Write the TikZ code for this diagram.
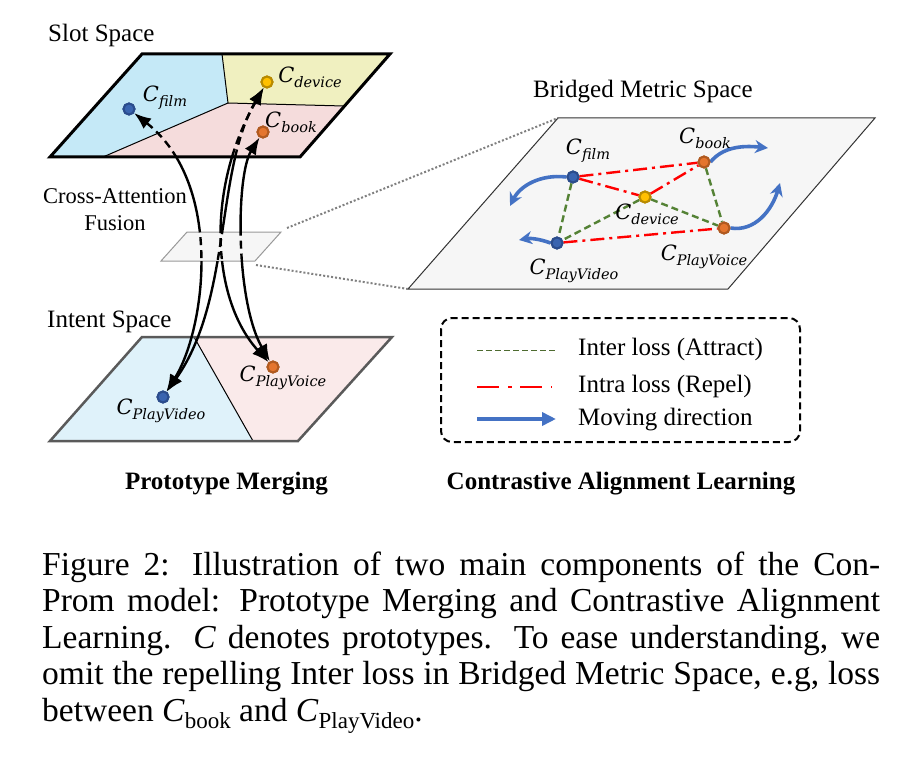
\documentclass[tikz,border=0pt]{standalone}
\usepackage{fontspec}
\setmainfont{Liberation Serif}
\newfontfamily\pfont{DejaVu Serif}
\usetikzlibrary{arrows.meta,calc}
\definecolor{slotblue}{HTML}{C5E9F7}
\definecolor{slotyellow}{HTML}{F0F0C0}
\definecolor{slotpink}{HTML}{F5DCDC}
\definecolor{intblue}{HTML}{DFF2FA}
\definecolor{intpink}{HTML}{FAEAEA}
\definecolor{dotblue}{HTML}{3A64B0}
\definecolor{dotblueE}{HTML}{2B4C8C}
\definecolor{dotyel}{HTML}{FFC000}
\definecolor{dotyelE}{HTML}{B88A00}
\definecolor{dotor}{HTML}{E4752E}
\definecolor{dotorE}{HTML}{B05A20}
\definecolor{movblue}{HTML}{4472C4}
\definecolor{intergreen}{HTML}{548235}
\definecolor{legendgreen}{HTML}{4E6B30}
\definecolor{planegray}{HTML}{F6F6F6}
\definecolor{intborder}{HTML}{5A5A5A}
\newcommand\Cs[1]{{\pfont\itshape\fontsize{21}{21}\selectfont C\raisebox{-5pt}{\fontsize{14.5}{14.5}\selectfont #1}}}
\newcommand\capsub[1]{\raisebox{-0.22em}{\fontsize{23}{23}\selectfont #1}}
\newcommand\capfont{\fontsize{33.5}{36}\selectfont}
\tikzset{
  lbl/.style={inner sep=0pt, font=\fontsize{25}{30}\selectfont},
  plbl/.style={inner sep=0pt},
  pdot/.style={circle, inner sep=0pt, minimum size=11pt, line width=2pt},
  bdot/.style={pdot, fill=dotblue, draw=dotblueE},
  ydot/.style={pdot, fill=dotyel, draw=dotyelE},
  odot/.style={pdot, fill=dotor, draw=dotorE},
  curve/.style={line width=2.4pt, {Latex[length=17pt,width=13pt]}-{Latex[length=17pt,width=13pt]}},
  dcurve/.style={curve, dash pattern=on 8pt off 5pt},
  mv/.style={movblue, line width=3.6pt, -{Stealth[length=13pt,width=13pt]}},
  intra/.style={red, line width=2.4pt, dash pattern=on 14pt off 5pt on 3pt off 5pt},
  inter/.style={intergreen, line width=2.4pt, dash pattern=on 7pt off 4pt},
  connect/.style={gray, line width=2pt, dash pattern=on 2pt off 2pt},
  capline/.style={anchor=base west, inner sep=0pt, font=\capfont},
}
\begin{document}
\begin{tikzpicture}[x=1pt,y=-1pt]
\useasboundingbox (0,0) rectangle (905,765);
% ---------- coordinates
\coordinate (S1) at (142,54); \coordinate (S2) at (390,54);
\coordinate (S3) at (300,157); \coordinate (S4) at (50,157);
\coordinate (P1) at (222,54); \coordinate (P2) at (228,103);
\coordinate (P3) at (103,157); \coordinate (P4) at ($(S2)!0.505!(S3)$);
\coordinate (I1) at (142,337); \coordinate (I2) at (392,337);
\coordinate (I3) at (298,441); \coordinate (I4) at (50,441);
\coordinate (Q1) at (194,337); \coordinate (Q2) at (253,441);
\coordinate (X1) at (187,232); \coordinate (X2) at (281,232);
\coordinate (X3) at (255,261); \coordinate (X4) at (161,261);
\coordinate (B1) at (558,118); \coordinate (B2) at (875,118);
\coordinate (B3) at (728,289); \coordinate (B4) at (408,289);
% ---------- slot space
\fill[slotblue] (S1) -- (P1) -- (P2) -- (P3) -- (S4) -- cycle;
\fill[slotyellow] (P1) -- (S2) -- (P4) -- (P2) -- cycle;
\fill[slotpink] (P2) -- (P4) -- (S3) -- (P3) -- cycle;
\draw[line width=1pt] (P1) -- (P2) -- (P3);
\draw[line width=1pt] (P2) -- (P4);
\draw[line width=3pt] (S1) -- (S2) -- (S3) -- (S4) -- cycle;
% ---------- intent space
\fill[intblue] (I1) -- (Q1) -- (Q2) -- (I4) -- cycle;
\fill[intpink] (Q1) -- (I2) -- (I3) -- (Q2) -- cycle;
\draw[line width=1pt] (Q1) -- (Q2);
\draw[intborder, line width=2.5pt] (I1) -- (I2) -- (I3) -- (I4) -- cycle;
% ---------- cross attention plane
\filldraw[fill=planegray, draw=gray!80, line width=1pt] (X1) -- (X2) -- (X3) -- (X4) -- cycle;
% ---------- bridged plane
\filldraw[fill=planegray, draw=black!80, line width=1pt] (B1) -- (B2) -- (B3) -- (B4) -- cycle;
\coordinate (Z1) at (287,228); \coordinate (Z2) at (256,265);
\draw[connect] (Z1) -- (B1);
\draw[connect] (Z2) -- (B4);
% ---------- dots
\node[bdot] (sf) at (129,109) {};
\node[ydot] (sd) at (267,82) {};
\node[odot] (sb) at (263,132) {};
\node[bdot] (ipv) at (163,397) {};
\node[odot] (ipo) at (273,367) {};
\node[bdot] (bf) at (573,177) {};
\node[odot] (bb) at (704,162) {};
\node[ydot] (bd) at (645,197) {};
\node[odot] (bpo) at (724,228) {};
\node[bdot] (bpv) at (557,243) {};
% ---------- merging curves
\def\cA{(sf) .. controls (225,185) and (205,330) .. (ipv)}
\def\cB{(sd) .. controls (215,170) and (232,300) .. (ipv)}
\def\cC{(sd) .. controls (205,190) and (212,300) .. (ipo)}
\def\cD{(sb) .. controls (236,175) and (235,300) .. (ipo)}
\begin{scope}[even odd rule]
  \clip (0,0) rectangle (905,765) (S1) -- (S2) -- (S3) -- (S4) -- cycle (X1) -- (X2) -- (X3) -- (X4) -- cycle;
  \draw[curve] \cA; \draw[curve] \cB; \draw[curve] \cC;
\end{scope}
\begin{scope}
  \clip (S1) -- (S2) -- (S3) -- (S4) -- cycle;
  \draw[dcurve] \cA; \draw[dcurve] \cB; \draw[dcurve] \cC;
\end{scope}
\begin{scope}
  \clip (X1) -- (X2) -- (X3) -- (X4) -- cycle;
  \draw[dcurve] \cA; \draw[dcurve] \cB; \draw[dcurve] \cC; \draw[dcurve] \cD;
\end{scope}
\begin{scope}[even odd rule]
  \clip (0,0) rectangle (905,765) (X1) -- (X2) -- (X3) -- (X4) -- cycle;
  \draw[curve] \cD;
\end{scope}
% redraw dots on top
\node[bdot] at (sf) {};
\node[ydot] at (sd) {};
\node[odot] at (sb) {};
\node[bdot] at (ipv) {};
\node[odot] at (ipo) {};
% ---------- bridged edges
\draw[intra] (bf) -- (bb);
\draw[intra] (bf) -- (bd);
\draw[intra] (bd) -- (bb);
\draw[intra] (bpv) -- (bpo);
\draw[inter] (bf) -- (bpv);
\draw[inter] (bd) -- (bpv);
\draw[inter] (bd) -- (bpo);
\draw[inter] (bb) -- (bpo);
% moving arrows
\coordinate (m1) at (510,206); \coordinate (m2) at (519,240);
\coordinate (m3) at (768,148); \coordinate (m4) at (780,183);
\draw[mv] (bf.west) .. controls (540,174) and (520,186) .. (m1);
\draw[mv] (bpv.west) .. controls (540,239) and (530,238) .. (m2);
\draw[mv] (bb.east) .. controls (722,148) and (740,145) .. (m3);
\draw[mv] (bpo.east) .. controls (755,232) and (772,210) .. (m4);
\node[bdot] at (bf) {};
\node[odot] at (bb) {};
\node[ydot] at (bd) {};
\node[odot] at (bpo) {};
\node[bdot] at (bpv) {};
% ---------- prototype labels
\node[plbl] (lsf) at (165,98) {\Cs{film}};
\node[plbl] (lsd) at (310,77) {\Cs{device}};
\node[plbl] (lsb) at (291,122) {\Cs{book}};
\node[plbl] (lipv) at (161,411) {\Cs{PlayVideo}};
\node[plbl] (lipo) at (283,378) {\Cs{PlayVoice}};
\node[plbl] (lbf) at (588,151) {\Cs{film}};
\node[plbl] (lbb) at (705,138) {\Cs{book}};
\node[plbl] (lbd) at (647,214) {\Cs{device}};
\node[plbl] (lbpo) at (704,257) {\Cs{PlayVoice}};
\node[plbl] (lbpv) at (574,271) {\Cs{PlayVideo}};
% ---------- titles
\node[lbl, anchor=base west] (tslot) at (48,42) {Slot Space};
\node[lbl, anchor=base west] (tint) at (47,327) {Intent Space};
\node[lbl, anchor=base west] (tbr) at (533,98) {Bridged Metric Space};
\node[lbl, anchor=base, font=\fontsize{22.5}{27}\selectfont] (tca1) at (115,203) {Cross-Attention};
\node[lbl, anchor=base, font=\fontsize{22.5}{27}\selectfont] (tca2) at (115,230) {Fusion};
\node[lbl, anchor=base, font=\bfseries\fontsize{25}{30}\selectfont] (tpm) at (226.5,489) {Prototype Merging};
\node[lbl, anchor=base, font=\bfseries\fontsize{25}{30}\selectfont] (tcal) at (621,489) {Contrastive Alignment Learning};
% ---------- legend
\draw[line width=2pt, dash pattern=on 7pt off 4pt, rounded corners=11pt] (441,318) rectangle (800,442);
\coordinate (g1) at (477,350); \coordinate (g2) at (555,350);
\coordinate (r1) at (477,387); \coordinate (r2) at (552,387);
\coordinate (a1) at (477,419); \coordinate (a2) at (556,419);
\draw[legendgreen, line width=1pt, dash pattern=on 6pt off 3pt] (g1) -- (g2);
\draw[red, line width=1.3pt, dash pattern=on 22pt off 9pt on 4pt off 8pt] (r1) -- (r2);
\draw[movblue, line width=3.6pt, -{Triangle[length=14pt,width=13pt]}] (a1) -- (a2);
\node[lbl, anchor=base west] (lg1) at (578,355) {Inter loss (Attract)};
\node[lbl, anchor=base west] (lg2) at (578,392) {Intra loss (Repel)};
\node[lbl, anchor=base west] (lg3) at (578,425) {Moving direction};
% ---------- caption
\node[capline] (cap1) at (42,575) {\makebox[838pt][s]{Figure 2: Illustration of two main components of the Con-}};
\node[capline] (cap2) at (42,611.5) {\makebox[838pt][s]{Prom model: Prototype Merging and Contrastive Alignment}};
\node[capline] (cap3) at (42,648) {\makebox[838pt][s]{Learning. \textit{C} denotes prototypes. To ease understanding, we}};
\node[capline] (cap4) at (42,684.5) {\makebox[838pt][s]{omit the repelling Inter loss in Bridged Metric Space, e.g, loss}};
\node[capline] (cap5) at (42,721) {between \textit{C}\capsub{book} and \textit{C}\capsub{PlayVideo}.};
\end{tikzpicture}
\end{document}
